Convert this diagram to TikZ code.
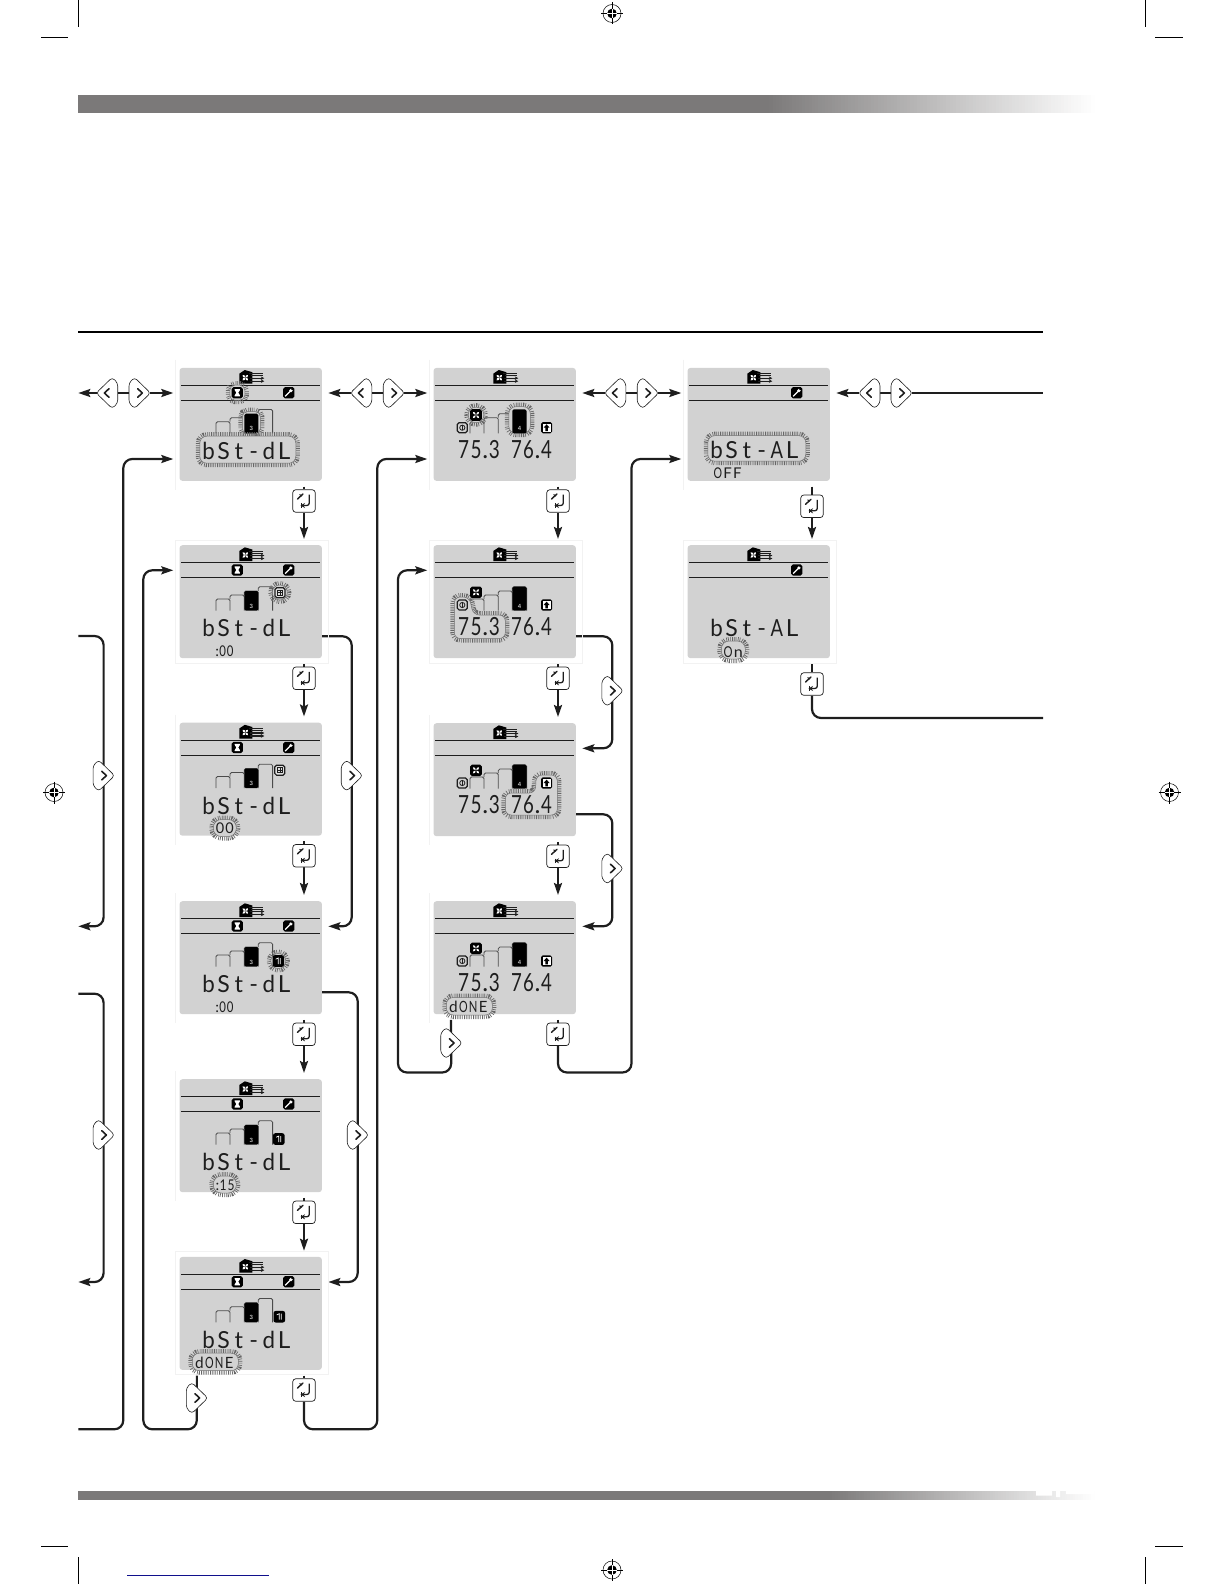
\documentclass[tikz,border=0pt]{standalone}
\usepackage{fontspec}
\usepackage{graphicx}
\setmainfont{Liberation Sans}
\newfontfamily\segfont{Lato}
\usetikzlibrary{arrows.meta,calc}
\definecolor{lcdc}{HTML}{D2D2D2}
\definecolor{barc}{HTML}{7B7979}
\definecolor{ink}{HTML}{1E1E1E}
\definecolor{bluel}{HTML}{10108C}
\pgfdeclarelayer{under}
\pgfsetlayers{under,main}
\tikzset{
  lcdbox/.style={fill=lcdc,draw=none,rounded corners=3pt,minimum width=142.4pt,minimum height=113pt,inner sep=0pt,anchor=north west},
  frameln/.style={draw=black!5,line width=.6pt},
  rule/.style={draw=ink,line width=.9pt},
  barln/.style={draw=ink!80,line width=.8pt,rounded corners=1.5pt},
  barfill/.style={fill=black,rounded corners=1.5pt},
  gtick/.style={draw=black!60,line width=8pt,dash pattern=on .7pt off 1.1pt},
  gline/.style={draw=black!55,line width=.5pt,fill=lcdc},
  conn/.style={draw=ink,line width=2.2pt,rounded corners=9pt},
  tipped/.style={-{Stealth[length=12pt,width=8pt,inset=2pt]}},
  btnshape/.style={draw=ink,line width=.6pt,fill=white},
  chev/.style={draw=ink,line width=1.6pt,line join=round,line cap=round},
  retbox/.style={draw=ink,line width=.7pt,fill=white,rounded corners=3pt,minimum width=22.5pt,minimum height=22.5pt,inner sep=0pt},
  seg/.style={inner sep=0pt,anchor=base west,text=ink},
  crop/.style={draw=black,line width=.7pt},
}
% fixed-cell lettering, as on the display: cell width, glyph width, text
\makeatletter
\newcommand\segword[3]{\@tfor\sgc:=#3\do{\if.\sgc.\else\if:\sgc:\else\if t\sgc\makebox[#1pt][c]{\sgc}\else\if -\sgc\makebox[#1pt][c]{\resizebox{.7\dimexpr#2pt\relax}{\height}{\sgc}}\else\makebox[#1pt][c]{\resizebox{#2pt}{\height}{\sgc}}\fi\fi\fi\fi}}
\makeatother
% text: name, x, baseline, cell, glyph, font size, text
\newcommand\segtxt[7]{\node[seg,name=#1] at (#2,#3) {\segfont\fontsize{#6}{#6}\selectfont\segword{#4}{#5}{#7}};}
\newcommand\bigword[2]{\segtxt{#1}{21.5}{91.5}{15.1}{12.5}{23.5}{#2}}
\newcommand\temps[1]{\segtxt{#1a}{24}{90.7}{12.4}{11}{25}{75.3}\segtxt{#1b}{77}{90.7}{12}{10.8}{25}{76.4}}
\newcommand\glow[2][5]{\draw[gtick,rounded corners=#1pt] #2;\draw[gline,rounded corners=#1pt] #2;}
% gradient band: x0, x1 (fade), y0, y1
\newcommand\fadeband[4]{\foreach\i in {0,...,99}{\pgfmathsetmacro\p{100-\i}\pgfmathsetmacro\xa{#1+(#2-#1)/100*\i}\pgfmathsetmacro\xb{#1+(#2-#1)/100*(\i+1.3)}\fill[barc!\p!white] (\xa,#3) rectangle (\xb,#4);}}
% lcd: name, x, y
\newcommand\lcdpanel[3]{%
  \node[lcdbox,name=#1] at (#2,#3) {};
  \coordinate (#1lt) at ($(#1.north west)+(-6,25.3)$);
  \coordinate (#1lb) at ($(#1.north west)+(-6,91.3)$);
  \coordinate (#1rt) at ($(#1.north west)+(149,25.3)$);
  \coordinate (#1rb) at ($(#1.north west)+(141.7,91.3)$);
  \coordinate (#1top) at ($(#1.north west)+(124.7,-6)$);
  \coordinate (#1bot) at ($(#1.north west)+(124.7,118.8)$);
  \coordinate (#1bl) at ($(#1.north west)+(17.6,118.8)$);
}
\newcommand\framefull{\draw[frameln] (-4.3,-5) rectangle (149,118);}
\newcommand\frameleft{\draw[frameln] (-4.3,-8) -- (-4.3,122);}
% header: fan unit symbol and rules
\newcommand\head{%
  \fill[black,line join=round] (60,6)--(65.5,2.3)--(73,4.5)--(73,16)--(60,16)--cycle;
  \begin{scope}[shift={(66,10)}]\foreach\a in {45,135,225,315}{\fill[white,rotate=\a] (2,0) ellipse (1.8 and 1.2);}\end{scope}
  \draw[ink,line width=.5pt] (70,6)--(84,6) (72,8)--(84,8);
  \draw[ink,line width=1.1pt,-{Stealth[length=3.5pt,width=3.5pt]}] (71,10.5)--(85,10.5);
  \draw[ink,line width=1.1pt,-{Stealth[length=3.5pt,width=3.5pt]}] (71,13.5)--(85,13.5);
  \draw[rule] (1.7,17.7)--(140.7,17.7);
  \draw[rule] (1.7,32.7)--(140.7,32.7);
}
\newcommand\barsbase{%
  \draw[barln] (36.7,65.7)--(36.7,54)--(50.7,54)--(50.7,65.7);
  \draw[barln] (50.7,54)--(50.7,50)--(65,50)--(65,65.7);
  \draw[barln] (65,50)--(65,46)--(79,46)--(79,65.7);
  \draw[barln] (79,46)--(79,41.7)--(93.3,41.7)--(93.3,65.7);
}
\newcommand\barthree[1]{\fill[barfill] (65,65.7)--(65,46)--(79,46)--(79,65.7)--cycle;
  \node[inner sep=0pt,text=white,font=\fontsize{6}{6}\selectfont,name=#1] at (72,61) {3};}
\newcommand\barfour[1]{\fill[barfill] (79,65.7)--(79,41.7)--(93.3,41.7)--(93.3,65.7)--cycle;
  \node[inner sep=0pt,text=white,font=\fontsize{6}{6}\selectfont,name=#1] at (86.2,61) {4};}
% icons: x, y
\newcommand\hourglass[2]{\begin{scope}[shift={(#1,#2)}]\fill[black,rounded corners=1.8pt] (-5.6,-5.6) rectangle (5.6,5.6);
  \fill[white] (-2.6,-3.6)--(2.6,-3.6)--(2.6,-2.6)--(1,0)--(2.6,2.6)--(2.6,3.6)--(-2.6,3.6)--(-2.6,2.6)--(-1,0)--(-2.6,-2.6)--cycle;\end{scope}}
\newcommand\wrench[2]{\begin{scope}[shift={(#1,#2)}]\fill[black,rounded corners=1.8pt] (-5.6,-5.6) rectangle (5.6,5.6);
  \draw[white,line width=1.3pt] (-3.6,3.6)--(1.6,-1.6);\fill[white] (2.2,-2.2) circle (1.8);\fill[black] (3.4,-3.4) circle (1);\end{scope}}
\newcommand\fanicon[2]{\begin{scope}[shift={(#1,#2)}]\fill[black,rounded corners=1.8pt] (-5.8,-5.8) rectangle (5.8,5.8);
  \foreach\a in {45,135,225,315}{\fill[white,rotate=\a] (2.4,0) ellipse (1.9 and 1.1);}\end{scope}}
\newcommand\downicon[2]{\begin{scope}[shift={(#1,#2)}]\draw[ink,line width=1.2pt,fill=lcdc,rounded corners=1.8pt] (-5,-5) rectangle (5,5);
  \draw[ink,line width=.8pt] (0,0) circle (2.6);\draw[ink,line width=.8pt] (0,-3)--(0,2.6);\end{scope}}
\newcommand\upicon[2]{\begin{scope}[shift={(#1,#2)}]\fill[black,rounded corners=1.8pt] (-5.6,-5.6) rectangle (5.6,5.6);
  \fill[white] (-4,-4) rectangle (4,4);\fill[black] (0,-3.4)--(3,0)--(1.2,0)--(1.2,3.4)--(-1.2,3.4)--(-1.2,0)--(-3,0)--cycle;\end{scope}}
\newcommand\gridicon[2]{\begin{scope}[shift={(#1,#2)}]\draw[ink,line width=1.2pt,fill=lcdc!70,rounded corners=1.8pt] (-5,-5) rectangle (5,5);
  \draw[ink,line width=.9pt] (-2.7,-2.7) rectangle (2.7,2.7);\draw[ink,line width=.6pt] (0,-2.7)--(0,2.7) (-2.7,0)--(2.7,0);\end{scope}}
\newcommand\darticon[2]{\begin{scope}[shift={(#1,#2)}]\fill[black,rounded corners=2.2pt] (-5.8,-5.8) rectangle (5.8,5.8);
  \draw[white,line width=.7pt] (-2.6,-1.8)--(0,-3)--(0,3) (2,-3)--(2,3);\end{scope}}
% buttons: name, x, y, +1 right / -1 left
\newcommand\navbtn[4]{%
  \node[inner sep=0pt,minimum width=21pt,minimum height=29pt,name=#1] at (#2,#3) {};
  \begin{scope}[shift={(#1.center)},xscale=#4]
  \draw[btnshape,rounded corners=3pt] (-10.5,-10)--(-5,-15.5)--(11,0)--(-5,15.5)--(-10.5,10)--cycle;
  \draw[chev] (-1.8,-4.3)--(2.8,0)--(-1.8,4.3);
  \end{scope}}
\newcommand\retbtn[3]{%
  \node[retbox,name=#1] at (#2,#3) {};
  \begin{scope}[shift={(#1.center)}]
  \draw[ink,line width=1.4pt,line cap=round] (-6.5,-2)--(-1,-7);
  \draw[ink,line width=1pt] (-4.5,-6.5)--(-2,-5);
  \draw[ink,line width=1.3pt,rounded corners=2.5pt,-{Stealth[length=4.5pt,width=5pt]}] (5.3,-6.5)--(5.3,4.5)--(-3.5,4.5);
  \draw[ink,line width=1pt] (-2.4,2.2)--(-2.4,7);
  \end{scope}}
% registration mark: name, x, y
\newcommand\regmark[3]{%
  \node[inner sep=0pt,minimum size=18pt,circle,draw=black,line width=.5pt,name=#1] at (#2,#3) {};
  \fill[black] (#1.center) circle (4.8);
  \draw[black,line width=.8pt] ($(#1.center)+(-11,0)$)--($(#1.center)+(11,0)$) ($(#1.center)+(0,-11)$)--($(#1.center)+(0,11)$);
  \draw[white,line width=.6pt] ($(#1.center)+(-4.8,0)$)--($(#1.center)+(4.8,0)$) ($(#1.center)+(0,-4.8)$)--($(#1.center)+(0,4.8)$);
}
\begin{document}
\begin{tikzpicture}[x=1pt,y=-1pt]
\useasboundingbox (0,0) rectangle (1224,1584);
% print furniture
\fill[barc] (78,95) rectangle (767,112.7);
\fadeband{766}{1094}{95}{112.7}
\fill[barc] (78,1491) rectangle (828,1500);
\fadeband{827}{1094}{1491}{1500}
\fill[white] (1036,1490) rectangle (1052,1495.5) (1056,1490) rectangle (1060,1497) (1066,1490) rectangle (1094,1494);
\draw[black,line width=2pt] (78,331.5)--(1043,331.5);
\draw[crop] (78,0)--(78,27) (1145,0)--(1145,27) (41,37.3)--(68,37.3) (1155,37.3)--(1183,37.3);
\draw[crop] (78,1557)--(78,1584) (1145,1557)--(1145,1584) (41,1546)--(68,1546) (1155,1546)--(1183,1546);
\draw[bluel,line width=1.3pt] (127,1575.3)--(269,1575.3);
\regmark{regT}{612}{13.5}
\regmark{regB}{612}{1570}
\regmark{regL}{54}{792.5}
\regmark{regR}{1169.5}{792.5}

% ---- panels, column 1
\lcdpanel{La}{179.3}{367.7}
\begin{scope}[shift={(La.north west)}]\frameleft\head\barsbase
 \glow[5]{(50.5,17.5) rectangle (65.5,32.5)}\hourglass{58}{25}\wrench{109.5}{25}
 \glow[5]{(63,44) rectangle (81,66)}\barthree{Lan}
 \glow[7]{(20.5,68.5) rectangle (116.5,95.5)}
 \bigword{Law}{bSt-dL}
\end{scope}
\lcdpanel{Lb}{179.3}{545}
\begin{scope}[shift={(Lb.north west)}]\framefull\head\barsbase\barthree{Lbn}
 \hourglass{58}{25}\wrench{109.5}{25}
 \glow[7.5]{(93,40) rectangle (108,55)}\gridicon{100.7}{47.7}
 \bigword{Lbw}{bSt-dL}
 \segtxt{Lbs}{35.8}{111.7}{7.4}{6.6}{14.8}{:00}
\end{scope}
\lcdpanel{Lc}{179.3}{722.5}
\begin{scope}[shift={(Lc.north west)}]\frameleft\head\barsbase\barthree{Lcn}
 \hourglass{58}{25}\wrench{109.5}{25}\gridicon{100.5}{47.7}
 \bigword{Lcw}{bSt-dL}
 \glow[8]{(34,97) rectangle (57,114)}
 \segtxt{Lcs}{35.7}{111.3}{9.6}{8.4}{14.8}{00}
\end{scope}
\lcdpanel{Ld}{179.3}{901}
\begin{scope}[shift={(Ld.north west)}]\frameleft\head\barsbase\barthree{Ldn}
 \hourglass{58}{25}\wrench{109.5}{25}
 \glow[7.5]{(91.5,52.5) rectangle (106.5,67.5)}\darticon{99}{60}
 \bigword{Ldw}{bSt-dL}
 \segtxt{Lds}{35.8}{111.7}{7.4}{6.6}{14.8}{:00}
\end{scope}
\lcdpanel{Le}{179.3}{1079}
\begin{scope}[shift={(Le.north west)}]\frameleft\head\barsbase\barthree{Len}
 \hourglass{58}{25}\wrench{109.5}{25}\darticon{99.5}{60}
 \bigword{Lew}{bSt-dL}
 \glow[8]{(34,97) rectangle (57,114)}
 \segtxt{Les}{36}{111.3}{8}{7}{14.8}{:15}
\end{scope}
\lcdpanel{Lf}{179.3}{1256.7}
\begin{scope}[shift={(Lf.north west)}]\framefull\head\barsbase\barthree{Lfn}
 \hourglass{58}{25}\wrench{109.5}{25}\darticon{100}{60}
 \bigword{Lfw}{bSt-dL}
 \glow[7]{(13,96.5) rectangle (59,114)}
 \segtxt{Lfs}{15}{111.7}{9.9}{8.6}{15.5}{dONE}
\end{scope}

% ---- panels, column 2
\lcdpanel{Ma}{433.3}{367.7}
\begin{scope}[shift={(Ma.north west)}]\frameleft\head\barsbase
 \glow[7.5]{(35,39.5) rectangle (50.5,55)}\fanicon{42.7}{47.3}
 \glow[7]{(75.5,39) rectangle (97,65.5)}\barfour{Man}
 \downicon{29}{60}\upicon{113.3}{60}
 \temps{Ma}
\end{scope}
\lcdpanel{Mb}{433.3}{545}
\begin{scope}[shift={(Mb.north west)}]\framefull\head\barsbase\barfour{Mbn}
 \glow[6]{(21,52)--(36,52)--(40,70)--(72,70)--(72,93.5)--(21,93.5)--cycle}
 \fanicon{42.7}{47.3}\downicon{29}{60}\upicon{113.3}{60}
 \temps{Mb}
\end{scope}
\lcdpanel{Mc}{433.3}{723}
\begin{scope}[shift={(Mc.north west)}]\frameleft\head\barsbase\barfour{Mcn}
 \glow[6]{(103,52)--(124,52)--(124,92)--(72,92)--(72,70)--(102,70)--cycle}
 \fanicon{42.7}{47.3}\downicon{29}{60}\upicon{113.3}{60}
 \temps{Mc}
\end{scope}
\lcdpanel{Md}{433.3}{901}
\begin{scope}[shift={(Md.north west)}]\frameleft\head\barsbase\barfour{Mdn}
 \fanicon{42.7}{47.3}\downicon{29}{60}\upicon{113.3}{60}
 \temps{Md}
 \glow[7]{(13,96.5) rectangle (59,114)}
 \segtxt{Mds}{15}{111.7}{9.9}{8.6}{15.5}{dONE}
\end{scope}

% ---- panels, column 3
\lcdpanel{Na}{687.3}{367.7}
\begin{scope}[shift={(Na.north west)}]\frameleft\head\wrench{109.5}{25}
 \glow[7]{(20.5,68) rectangle (118.5,93.5)}
 \segtxt{Naw}{21.5}{90.7}{15.1}{12.5}{23.5}{bSt-AL}
 \segtxt{Nas}{25.5}{110.7}{9.7}{8.5}{14.8}{OFF}
\end{scope}
\lcdpanel{Nb}{687.3}{545}
\begin{scope}[shift={(Nb.north west)}]\framefull\head\wrench{109.5}{25}
 \bigword{Nbw}{bSt-AL}
 \glow[8]{(34,96) rectangle (58,114)}
 \segtxt{Nbs}{35.5}{112}{10.2}{9}{15}{On}
\end{scope}

% ---- buttons
\navbtn{pa}{107.2}{393}{-1}\navbtn{pb}{139.5}{393}{1}
\navbtn{pc}{361.3}{393}{-1}\navbtn{pd}{393.7}{393}{1}
\navbtn{pe}{615.3}{393}{-1}\navbtn{pf}{647.7}{393}{1}
\navbtn{pg}{869.5}{393}{-1}\navbtn{ph}{901.5}{393}{1}
\navbtn{qa}{103.6}{775.6}{1}
\navbtn{qb}{103.6}{1135}{1}
\navbtn{qc}{351.7}{775.6}{1}
\navbtn{qd}{357.7}{1135}{1}
\navbtn{qe}{196.8}{1398}{1}
\navbtn{qf}{612.3}{690.8}{1}
\navbtn{qg}{612.3}{868.5}{1}
\navbtn{qh}{451.2}{1043}{1}
\retbtn{ra}{304}{501}\retbtn{rb}{304}{678.3}\retbtn{rc}{304}{855.8}
\retbtn{rd}{304}{1034.3}\retbtn{re}{304}{1212.3}\retbtn{rf}{304}{1390}
\retbtn{sa}{558}{501}\retbtn{sb}{558}{678.3}\retbtn{sc}{558}{856.3}\retbtn{sd}{558}{1034.3}
\retbtn{ta}{812}{506.3}\retbtn{tb}{812}{684}

% ---- free ends and bends
\coordinate (exL) at (78.3,393);
\coordinate (exR) at (1043,393);
\coordinate (exRb) at (1043,718);
\coordinate (e1) at (78.3,636);
\coordinate (e2) at (78.3,926.3);
\coordinate (e3) at (78.3,993.7);
\coordinate (e4) at (78.3,1282);
\coordinate (e5) at (78.3,1429.3);
\coordinate (v1) at (123.3,1429.3);
\coordinate (v2) at (143.3,1429.3);
\coordinate (v3) at (377.3,1429.3);
\coordinate (v4) at (398,1072.5);
\coordinate (v5) at (631.5,1072.5);

\begin{pgfonlayer}{under}
% top row
\draw[conn,tipped] (pa.west)--(exL);
\draw[conn] (pa.east)--(pb.west);
\draw[conn,tipped] (pb.east)--(Lalt);
\draw[conn,tipped] (pc.west)--(Lart);
\draw[conn] (pc.east)--(pd.west);
\draw[conn,tipped] (pd.east)--(Malt);
\draw[conn,tipped] (pe.west)--(Mart);
\draw[conn] (pe.east)--(pf.west);
\draw[conn,tipped] (pf.east)--(Nalt);
\draw[conn,tipped] (pg.west)--(Nart);
\draw[conn] (pg.east)--(ph.west);
\draw[conn] (ph.east)--(exR);
% column 1 downwards
\draw[conn] (Labot)--(ra.north);\draw[conn,tipped] (ra.south)--(Lbtop);
\draw[conn] (Lbbot)--(rb.north);\draw[conn,tipped] (rb.south)--(Lctop);
\draw[conn] (Lcbot)--(rc.north);\draw[conn,tipped] (rc.south)--(Ldtop);
\draw[conn] (Ldbot)--(rd.north);\draw[conn,tipped] (rd.south)--(Letop);
\draw[conn] (Lebot)--(re.north);\draw[conn,tipped] (re.south)--(Lftop);
\draw[conn] (Lfbot)--(rf.north);
% column 2 downwards
\draw[conn] (Mabot)--(sa.north);\draw[conn,tipped] (sa.south)--(Mbtop);
\draw[conn] (Mbbot)--(sb.north);\draw[conn,tipped] (sb.south)--(Mctop);
\draw[conn] (Mcbot)--(sc.north);\draw[conn,tipped] (sc.south)--(Mdtop);
\draw[conn] (Mdbot)--(sd.north);
% column 3 downwards
\draw[conn] (Nabot)--(ta.north);\draw[conn,tipped] (ta.south)--(Nbtop);
\draw[conn] (Nbbot)--(tb.north);
\draw[conn] (tb.south) |- (exRb);
% left loops
\draw[conn,tipped] (e1) -| (qa.center) |- (e2);
\draw[conn,tipped] (e3) -| (qb.center) |- (e4);
\draw[conn,tipped] (e5) -- (v1) |- (Lalb);
% skip loops of column 1
\draw[conn,tipped] (Lbrb) -| (qc.center) |- (Ldrt);
\draw[conn,tipped] (Ldrb) -| (qd.center) |- (Lfrt);
\draw[conn,tipped] (Lfbl) -- (qe.center) |- (v2) |- (Lblt);
\draw[conn,tipped] (rf.south) |- (v3) |- (Malb);
% skip loops of column 2
\draw[conn,tipped] (Mbrb) -| (qf.center) |- (Mcrt);
\draw[conn,tipped] (Mcrb) -| (qg.center) |- (Mdrt);
\draw[conn,tipped] (Mdbl) -- (qh.center) |- (v4) |- (Mblt);
\draw[conn,tipped] (sd.south) |- (v5) |- (Nalb);
\end{pgfonlayer}
\end{tikzpicture}
\end{document}
